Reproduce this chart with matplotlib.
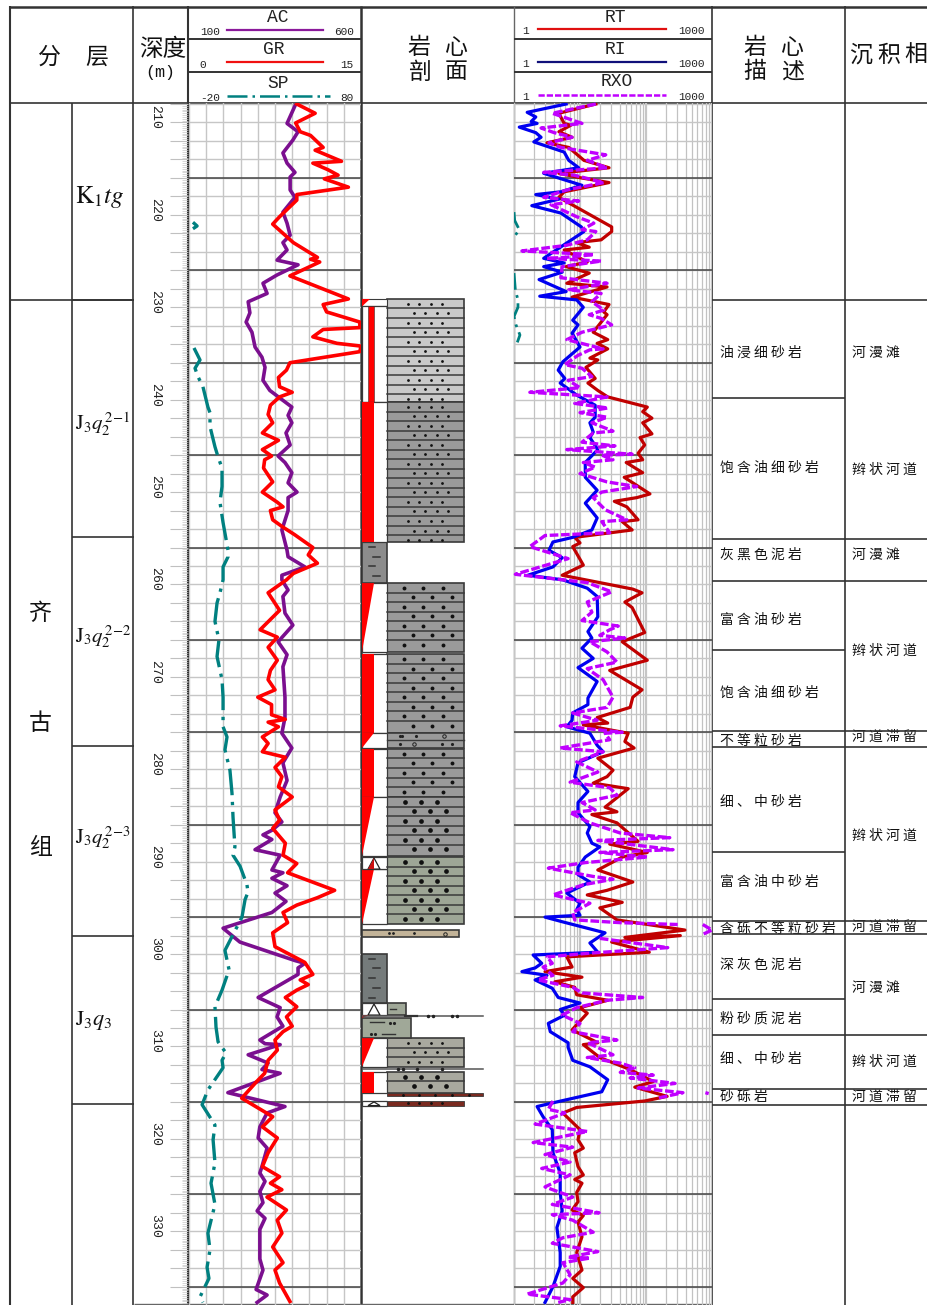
import numpy as np
import matplotlib
matplotlib.use('Agg')
import matplotlib.pyplot as plt
from matplotlib.patches import Rectangle, Polygon
from matplotlib.ticker import MultipleLocator, NullFormatter, LogLocator

plt.rcParams['font.family'] = ['Noto Sans CJK SC', 'DejaVu Sans']
plt.rcParams['mathtext.fontset'] = 'stix'

# log readings, depth in m
gr_depth = [208.0,209.0,210.05,211.0,211.4,212.7,213.0,214.2,214.4,215.1,215.7,216.1,217.0,217.8,218.4,220.2,221.0,223.0,224.6,224.8,225.1,226.6,229.1,229.7,230.5,231.6,232.2,232.4,233.2,233.9,234.2,234.8,235.7,236.0,236.8,237.6,238.6,239.2,239.7,240.6,241.6,242.5,243.6,244.4,245.4,246.1,246.5,247.4,248.9,250.0,251.1,251.6,252.0,253.0,253.8,254.6,256.0,256.8,257.7,258.8,259.5,260.9,262.8,264.9,265.7,266.8,268.2,269.3,270.3,271.4,272.2,273.0,274.1,274.6,274.9,275.4,276.5,277.2,278.1,278.7,279.8,280.8,281.9,283.0,284.4,285.5,286.4,288.0,289.3,290.2,291.2,293.1,293.9,294.7,295.5,296.6,297.7,299.2,300.9,302.2,302.8,303.3,303.9,304.7,305.7,306.8,307.8,308.4,309.3,310.4,311.5,312.9,313.8,315.6,317.6,318.7,319.9,321.5,323.0,324.1,324.8,325.5,326.3,327.7,328.8,330.2,331.7,333.4,334.2,335.6,337.6]
gr = [9.4,11.0,9.3,9.7,10.6,11.7,11.0,13.3,10.8,12.1,13.0,11.8,13.9,9.4,9.4,7.9,7.3,9.1,11.2,10.6,11.4,8.8,13.9,11.7,12.0,14.9,14.9,11.7,10.8,12.9,15.0,14.9,10.3,8.8,8.5,7.8,7.9,9.0,7.9,7.1,6.9,7.3,6.4,7.8,6.4,7.2,6.6,6.5,7.3,6.4,7.7,8.2,7.1,7.3,8.2,9.2,10.8,10.4,11.2,9.1,8.5,6.9,7.9,6.2,7.7,6.9,7.7,7.1,6.9,7.5,6.0,7.2,7.2,8.4,6.9,7.8,6.4,6.9,6.4,8.4,7.5,8.1,7.8,9.0,7.5,7.9,7.3,8.4,8.2,9.4,8.6,12.7,11.2,9.4,8.2,8.6,7.3,7.5,10.1,10.8,9.7,10.4,9.4,8.4,9.4,8.5,9.0,8.2,7.5,7.7,6.9,6.6,5.9,4.6,7.3,6.4,7.7,6.9,6.4,7.9,7.1,8.1,6.8,8.5,7.7,8.1,7.3,8.2,7.5,7.9,8.8]

ac_depth = [208.2,210.1,211.0,211.9,213.3,214.4,215.4,215.9,217.3,218.1,219.7,220.9,222.2,223.0,223.8,224.9,225.4,226.5,227.4,228.5,229.4,230.6,231.6,232.7,234.3,235.4,236.5,237.9,239.0,240.8,241.7,242.5,243.6,244.9,246.1,246.8,247.9,249.0,250.0,250.6,252.0,254.1,256.3,257.0,258.1,259.0,259.5,260.6,261.3,263.1,264.4,266.2,267.6,268.9,272.2,274.4,276.1,277.7,279.3,281.2,283.0,284.7,285.7,286.6,287.1,287.6,288.7,289.3,290.9,291.2,291.8,292.6,293.4,294.3,295.5,297.2,298.7,300.7,301.0,301.5,302.2,304.7,305.8,306.8,307.8,309.3,309.7,309.8,310.9,311.8,312.5,312.9,315.0,316.5,317.2,318.7,319.9,321.0,323.0,323.7,324.6,325.7,326.9,327.8,328.6,329.8,331.2,333.0,334.2,336.3,336.9,337.7]
ac = [408,385,417,402,373,385,408,394,394,408,373,385,394,373,385,356,417,356,315,327,272,277,266,283,292,312,321,315,335,399,388,399,382,394,359,379,399,388,414,388,388,370,385,388,437,370,370,388,373,379,402,359,385,373,379,379,370,399,373,385,365,350,370,341,315,341,292,365,341,373,341,385,350,382,341,199,248,408,437,417,417,301,365,356,373,306,321,365,272,330,312,365,213,379,327,306,301,327,312,306,321,306,315,298,321,306,306,306,315,295,327,298]

sp_depth = [220.8,221.2,221.5,np.nan,234.4,235.7,236.6,237.5,238.6,240.8,241.4,242.9,245.1,246.2,247.4,249.4,251.1,253.3,256.3,257.0,258.1,259.5,260.9,262.0,264.0,266.0,267.8,270.3,272.2,275.4,276.5,277.9,280.1,282.6,285.2,288.4,289.3,290.5,292.5,293.3,294.1,296.0,299.6,301.7,303.9,305.7,307.9,309.5,310.7,311.5,312.3,314.7,316.3,318.5,320.1,322.6,324.8,327.1,330.2,332.0,333.9,335.1,337.1,337.7]
sp = [-17.7,-15.3,-17.7,np.nan,-17.1,-13.6,-16.5,-14.8,-11.9,-9.0,-7.8,-7.8,-4.9,-3.1,-0.8,-0.8,-2.0,-0.2,2.7,2.7,-0.2,-0.2,-2.0,-3.7,-4.9,-2.6,-3.7,-0.8,-0.2,-0.2,2.1,0.9,3.8,5.0,5.6,6.7,5.6,9.7,13.7,14.3,12.6,10.8,0.9,3.3,-0.8,-4.9,-4.3,-3.1,1.5,-0.8,-0.2,-9.0,-12.4,-4.9,-6.0,-4.9,-7.2,-4.9,-9.0,-7.8,-9.5,-8.4,-13.6,-11.9]

# bit of SP that wraps into the resistivity track (log10 of the scale there)
sp_wrap_depth = [219.7,220.6,221.6,222.4,np.nan,226.3,228.1,229.2,230.0,231.0,231.9,233.0,233.8]
sp_wrap_log = [0.0,0.01,0.08,0.0,np.nan,0.0,0.02,0.06,0.06,0.0,0.03,0.09,0.05]

# resistivity is read as log10(ohm.m)
rt_depth = [208.0,209.0,210.1,210.3,211.0,211.6,212.2,212.7,214.1,214.9,215.5,216.0,216.5,217.5,218.1,219.3,221.3,221.8,222.7,223.0,223.5,223.8,225.1,225.6,226.3,227.4,227.8,228.9,229.7,230.5,230.8,232.7,233.5,233.9,234.5,235.5,235.7,236.5,237.7,238.2,239.0,239.7,240.6,240.8,241.3,242.0,242.5,243.7,244.1,244.9,245.8,246.5,246.8,247.9,248.4,250.2,250.6,251.0,251.6,253.0,253.2,254.1,254.9,255.5,255.9,257.9,259.0,260.5,260.9,261.9,262.5,265.2,266.2,268.2,269.3,271.4,272.2,273.3,274.4,275.0,275.2,276.1,277.0,277.7,278.8,280.1,280.8,281.5,282.1,284.1,284.6,284.9,285.8,287.8,288.1,289.0,289.5,290.9,292.2,293.1,293.6,294.4,295.0,296.3,297.4,298.2,298.0,298.7,299.8,300.3,301.4,301.9,302.5,303.0,303.6,304.4,305.0,305.8,306.4,308.2,309.6,309.8,311.2,312.5,313.8,314.4,315.4,315.9,316.6,317.2,319.0,320.1,321.0,321.5,323.0,323.9,324.4,324.8,325.8,326.8,327.7,328.3,329.0,330.6,332.3,334.2,335.1,336.1,337.1,337.7]
rt_log = [1.24,0.68,0.76,0.86,0.68,0.88,0.50,0.83,1.06,1.44,0.68,1.02,1.44,0.76,0.68,0.98,1.48,1.48,1.32,0.95,1.14,0.76,1.11,0.79,1.14,0.80,1.41,0.88,1.44,1.36,1.41,1.20,1.42,1.26,1.42,1.15,1.27,1.09,1.23,1.12,1.27,1.42,1.91,2.02,1.95,2.09,1.95,2.09,1.91,1.98,1.88,1.95,1.70,1.95,1.67,2.06,1.86,1.52,1.71,1.88,1.64,1.79,0.92,1.00,0.89,1.05,0.73,1.80,1.94,1.68,1.79,1.98,1.64,2.02,1.45,1.94,1.80,1.76,1.26,1.42,1.05,1.73,1.68,1.82,1.27,1.50,1.41,1.20,1.73,1.38,1.56,1.18,1.56,1.88,1.45,2.02,1.64,1.27,1.80,1.41,1.11,1.64,1.30,1.56,2.59,1.68,2.52,1.48,2.05,0.80,0.88,0.47,1.03,0.62,0.92,0.95,1.42,1.00,1.11,0.88,1.27,1.05,1.30,1.76,2.11,1.83,2.32,1.98,0.95,0.74,1.00,0.97,1.05,0.92,0.97,1.05,0.92,1.03,0.95,0.97,0.88,1.05,0.97,1.03,0.95,1.03,0.89,1.05,0.89,0.89]

ri_depth = [208.0,208.9,209.4,209.9,210.1,210.5,211.1,211.6,212.1,213.2,214.1,214.9,215.5,216.8,217.5,217.8,218.3,219.0,219.8,221.3,221.8,223.6,224.7,225.2,225.6,226.2,227.0,228.3,228.8,229.2,230.0,231.4,231.9,232.8,234.3,235.9,236.8,237.7,238.2,239.5,240.6,241.9,242.5,243.5,244.1,245.4,246.8,248.4,249.8,251.2,252.8,254.1,254.9,255.4,256.3,257.1,258.1,259.0,259.5,260.4,261.3,263.5,265.1,265.8,266.9,268.0,269.0,270.5,272.3,273.0,273.9,274.7,275.4,276.1,277.4,278.1,279.3,280.8,282.4,283.6,284.7,286.2,286.9,288.0,288.4,289.5,290.6,291.4,292.2,293.4,294.5,295.2,295.8,296.0,296.5,297.7,298.8,299.8,300.1,301.0,301.5,301.9,302.3,302.8,303.7,304.7,305.3,306.0,306.6,307.5,308.4,309.6,310.1,311.5,312.2,313.6,314.9,316.0,316.5,317.6,319.0,321.5,323.7,325.8,327.8,329.6,332.3,333.8,336.0,337.7]
ri_log = [0.79,0.20,0.33,0.26,0.35,0.08,0.33,0.41,0.30,0.76,0.83,0.98,0.45,1.03,0.71,0.33,0.68,0.27,0.71,1.02,1.06,0.68,0.45,0.76,0.45,0.73,0.38,0.79,0.39,0.95,1.05,0.89,0.97,0.88,1.00,0.74,0.67,0.77,0.70,0.95,1.23,1.23,1.15,1.20,1.15,1.27,1.08,1.08,1.26,1.08,1.26,1.18,0.89,0.59,0.53,0.73,0.59,0.21,0.74,1.11,1.26,1.27,1.12,1.18,1.03,1.20,0.97,1.26,1.12,1.12,0.89,0.88,0.80,1.15,1.26,1.35,0.97,0.92,1.12,0.97,0.97,1.15,1.11,1.18,1.30,1.08,0.97,0.97,1.15,0.80,1.00,0.95,1.00,0.47,0.73,1.38,1.15,1.27,0.29,0.42,0.32,0.12,0.50,0.32,0.58,0.67,1.00,0.70,0.77,0.52,0.55,0.82,0.82,0.89,1.15,1.42,1.33,0.65,0.35,0.44,0.58,0.59,0.70,0.70,0.73,0.65,0.70,0.70,0.59,0.47]

rxo_depth = [208.0,209.0,210.1,210.6,211.1,211.6,212.2,212.7,213.5,214.1,214.9,215.4,215.7,216.5,217.3,218.1,218.5,218.9,220.2,220.9,221.6,221.8,222.7,223.3,223.9,224.3,224.6,224.7,225.0,225.6,226.8,227.4,228.1,228.5,229.4,230.3,230.8,231.2,231.9,232.7,233.5,234.5,234.6,235.2,236.2,236.6,237.5,237.9,238.7,239.2,239.5,239.7,240.4,240.9,241.4,241.9,242.5,243.4,243.6,244.6,245.0,245.4,245.9,246.0,246.5,246.8,247.3,248.0,248.9,249.4,250.0,250.6,251.9,253.0,253.2,254.4,254.7,255.9,257.2,258.9,259.8,260.8,261.9,263.0,263.9,264.5,264.9,265.5,265.8,266.2,267.3,268.4,269.1,270.3,272.2,273.3,273.9,274.7,275.3,276.0,276.1,276.8,277.7,278.1,279.2,280.3,281.4,282.0,282.8,283.6,284.4,284.7,285.8,286.9,287.4,287.7,288.7,289.0,289.5,290.1,290.7,291.6,291.9,292.5,293.6,294.5,295.5,296.3,296.6,296.8,np.nan,296.8,297.4,297.9,np.nan,298.3,299.3,299.5,299.9,300.3,301.0,301.4,302.3,302.8,303.6,304.2,304.7,305.0,305.8,306.6,307.5,308.4,309.3,309.6,310.9,311.2,311.8,312.3,312.8,313.1,313.4,314.0,314.5,315.0,315.6,np.nan,315.0,315.1,np.nan,315.9,316.8,317.2,318.4,319.2,320.4,320.9,321.7,322.5,323.2,323.9,325.2,326.3,327.1,328.0,328.2,328.8,330.1,330.7,331.3,332.2,332.8,332.9,333.4,334.7,335.6,336.8,337.4,337.7]
rxo_log = [1.24,0.58,1.03,0.41,0.61,0.88,0.53,0.71,1.39,1.11,1.41,0.45,0.91,1.36,0.80,0.45,0.98,0.56,0.95,1.21,1.03,1.24,1.11,0.79,0.12,1.21,0.76,0.50,1.32,0.73,0.71,1.41,0.83,1.32,1.18,1.36,1.14,1.32,1.48,1.03,0.80,1.35,1.15,0.97,0.77,1.03,1.18,0.82,1.00,0.24,0.95,1.41,0.92,1.42,1.00,1.41,1.18,1.50,1.20,1.03,1.53,0.80,1.79,1.33,1.50,1.05,1.23,1.00,1.41,1.86,1.33,1.20,1.38,1.71,1.33,1.45,0.47,0.24,0.82,0.02,1.11,1.48,1.11,1.18,1.03,1.58,1.45,1.30,1.68,1.15,1.41,1.56,1.11,1.35,1.50,1.41,0.89,1.26,0.70,1.64,1.38,1.45,0.70,1.35,0.95,1.27,0.85,1.45,1.56,1.03,1.23,0.85,1.15,1.61,2.36,1.27,2.41,1.30,2.02,1.08,0.52,1.20,1.50,1.05,0.59,1.15,0.89,0.92,1.61,2.48,np.nan,2.86,3.0,2.85,np.nan,1.30,2.33,1.95,1.15,0.50,0.58,0.44,0.59,0.36,0.89,1.03,1.95,1.41,0.95,0.73,1.00,0.89,1.56,1.12,1.50,1.11,1.61,1.83,1.61,2.11,1.76,2.44,1.88,2.56,2.17,np.nan,2.90,2.95,np.nan,0.59,0.52,0.77,0.32,1.11,0.29,0.89,0.47,0.85,0.42,0.85,0.47,0.89,0.58,1.29,0.58,0.89,1.20,0.74,0.58,1.27,0.82,1.15,0.74,0.85,0.74,0.20,0.85,0.67]

depth_labels = list(range(210, 340, 10))

# core column: sand beds
sand_top = [229.1,240.25,259.85,267.55,276.05,277.8,283.0,289.5,309.1,312.75]
sand_bot = [240.25,255.45,267.3,276.05,277.7,283.0,289.35,296.75,312.2,315.05]
sand_col = ['#c9c9c9','#9a9a9a','#9a9a9a','#9a9a9a','#9a9a9a','#9a9a9a','#9a9a9a','#9ea696','#a9a99f','#a9a99f']
sand_dot = ['small','small','medium','medium','sparse','medium','large','large','small','large']

mud_top = [255.45,300.0]
mud_bot = [259.85,305.3]
mud_col = ['#8c8c8c','#757b7b']

# oil show next to the beds, bar = solid, wedge = fading downward
oil_top = [229.9,240.25,259.85,267.55,276.05,277.8,283.0,290.8,309.1,312.75]
oil_bot = [240.25,255.45,267.3,276.05,277.7,283.0,289.35,296.75,312.2,315.05]
oil_kind = ['thin','bar','wedge','bar','wedge','bar','wedge','wedge','wedge','bar']

strat_lines = [300, 537, 746, 936, 1104]
desc_lines = [300, 398, 539, 581, 650, 731, 747, 852, 921, 934, 999, 1035, 1089, 1105]
facies_lines = [300, 539, 581, 731, 747, 921, 934, 1035, 1089, 1105]

desc_text = ['油浸细砂岩','饱含油细砂岩','灰黑色泥岩','富含油砂岩','饱含油细砂岩','不等粒砂岩','细、中砂岩','富含油中砂岩','含砾不等粒砂岩','深灰色泥岩','粉砂质泥岩','细、中砂岩','砂砾岩']
desc_y = [353, 468, 555, 620, 693, 741, 802, 882, 929, 965, 1019, 1059, 1097]
facies_text = ['河漫滩','辫状河道','河漫滩','辫状河道','河道滞留','辫状河道','河道滞留','河漫滩','辫状河道','河道滞留']
facies_y = [353, 470, 555, 651, 737, 836, 927, 988, 1062, 1097]

W, H = 928, 1305
fig = plt.figure(figsize=(W / 100, H / 100), dpi=100, facecolor='white')
LINE = '#333333'
MONO = 'Liberation Mono'


def track_axes(x0, x1, y0=103, y1=1305):
    return fig.add_axes([x0 / W, 1 - y1 / H, (x1 - x0) / W, (y1 - y0) / H], facecolor='none')


# depth of the top and bottom pixel rows
d_top, d_bot = 207.89, 337.98

# page layer, table lines and text in pixels
bg = fig.add_axes([0, 0, 1, 1])
bg.set_xlim(0, W)
bg.set_ylim(H, 0)
bg.axis('off')


def hl(y, x0, x1, lw=1.2, c=LINE):
    bg.plot([x0, x1], [y, y], color=c, lw=lw, solid_capstyle='butt', zorder=6)


def vl(x, y0, y1, lw=1.2, c=LINE):
    bg.plot([x, x], [y0, y1], color=c, lw=lw, solid_capstyle='butt', zorder=6)


hl(6.5, 9, W, lw=1.8)
hl(103, 10, W, lw=1.2)
vl(10, 6, H, lw=1.5)
vl(72, 103, H)
for x in [133.5, 712, 845]:
    vl(x, 6, H)
vl(188.5, 6, H, lw=1.5)
vl(361.5, 6, H, lw=1.8)
vl(514, 6, H, lw=1.0, c='#666666')
for y in [38.5, 71.5]:
    hl(y, 189, 361, lw=1.4)
    hl(y, 514, 712, lw=1.4)
hl(300, 10, 134)
for y in strat_lines:
    hl(y, 72, 134)
for y in desc_lines:
    hl(y, 712, 845)
for y in facies_lines:
    hl(y, 845, W)
hl(1304, 134, 712, lw=1.0, c='#666666')

# header text
for s, x, y in [('分', 49, 57), ('层', 97, 57), ('岩', 419, 47), ('心', 456, 47), ('剖', 419, 72), ('面', 456, 72),
                ('岩', 755, 47), ('心', 792, 47), ('描', 755, 72), ('述', 792, 72),
                ('沉', 861, 55), ('积', 889, 55), ('相', 916, 55)]:
    bg.text(x, y, s, fontsize=16.5, ha='center', va='center', color='#111111', zorder=7)
bg.text(163, 50, '深度', fontsize=17, ha='center', va='center', color='#111111', zorder=7)
bg.text(160, 72, '(m)', fontsize=12, family=MONO, ha='center', va='center', color='#111111', zorder=7)

# curve legend
for s, x, y in [('AC', 278, 17), ('GR', 274, 50), ('SP', 278, 83), ('RT', 615, 17), ('RI', 615, 50), ('RXO', 617, 82)]:
    bg.text(x, y, s, fontsize=13, family=MONO, ha='center', va='center', color='#222222', zorder=7)
for s, x, y in [('100', 210, 32), ('600', 344, 32), ('0', 203, 65), ('15', 347, 65), ('-20', 210, 98), ('80', 347, 98),
                ('1', 526, 31), ('1000', 691, 31), ('1', 526, 64), ('1000', 691, 64), ('1', 526, 97), ('1000', 691, 97)]:
    bg.text(x, y, s, fontsize=8, family=MONO, ha='center', va='center', color='#222222', zorder=7)
bg.plot([227, 323], [30, 30], color='#8b1a9b', lw=1.6)
bg.plot([227, 323], [62, 62], color='#f01010', lw=1.6)
bg.plot([227, 330], [96, 96], color='#008080', lw=1.8, dashes=(8, 2, 1, 2))
bg.plot([538, 666], [29, 29], color='#e01010', lw=1.6)
bg.plot([538, 666], [62, 62], color='#10107a', lw=1.6)
bg.plot([538, 666], [95, 95], color='#c000ff', lw=1.8, dashes=(2.5, 0.8))

# strata column
for s, y in [('齐', 614), ('古', 724), ('组', 848)]:
    bg.text(40, y, s, fontsize=16.5, ha='center', va='center', color='#111111', zorder=7)
for s, x, y, fs in [(r'$\mathrm{K}_{1}\mathit{tg}$', 75, 197, 18),
                    (r'$\mathrm{J}_{3}\mathit{q}_{2}^{\,2\mathrm{-}1}$', 75, 424, 15),
                    (r'$\mathrm{J}_{3}\mathit{q}_{2}^{\,2\mathrm{-}2}$', 75, 637, 15),
                    (r'$\mathrm{J}_{3}\mathit{q}_{2}^{\,2\mathrm{-}3}$', 75, 838, 15),
                    (r'$\mathrm{J}_{3}\mathit{q}_{3}$', 75, 1020, 16)]:
    bg.text(x, y, s, fontsize=fs, ha='left', va='center', color='#111111', zorder=7)

# description and facies, the space gives the loose letter spacing
for s, y in zip(desc_text, desc_y):
    bg.text(720, y, ' '.join(s), fontsize=10, ha='left', va='center', color='#111111', zorder=5)
for s, y in zip(facies_text, facies_y):
    bg.text(852, y, ' '.join(s), fontsize=10, ha='left', va='center', color='#111111', zorder=5)

# depth track ticks
ax_d = track_axes(134, 188.5)
ax_d.set_ylim(d_bot, d_top)
ax_d.set_xlim(0, 1)
for s in ax_d.spines.values():
    s.set_visible(False)
ax_d.xaxis.set_visible(False)
ax_d.yaxis.tick_right()
ax_d.yaxis.set_major_locator(MultipleLocator(2))
ax_d.yaxis.set_minor_locator(MultipleLocator(0.2))
ax_d.yaxis.set_major_formatter(NullFormatter())
ax_d.tick_params(axis='y', which='major', direction='in', length=13, width=0.8, color='#c0c0c0')
ax_d.tick_params(axis='y', which='minor', direction='in', length=4.5, width=0.5, color='#c8c8c8')
for d in depth_labels:
    ax_d.text(0.39, d - 0.55, str(d), rotation=270, fontsize=9.5, family=MONO, ha='center', va='center', color='#222222')

# first curve track
ax1 = track_axes(189, 361)
ax1.set_ylim(d_bot, d_top)
ax1.set_xlim(0, 15)
ax1.xaxis.set_major_locator(MultipleLocator(1.5))
ax1.yaxis.set_major_locator(MultipleLocator(2))
ax1.grid(True, which='major', color='#c6c6c6', lw=1.0)
ax1.tick_params(length=0, labelbottom=False, labelleft=False)
ax1.set_axisbelow(True)
for s in ax1.spines.values():
    s.set_visible(False)
for d in range(216, 338, 10):
    ax1.axhline(d, color='#444444', lw=1.1, zorder=1.5)
ax_ac = ax1.twiny()
ax_ac.set_xlim(100, 600)
ax_ac.xaxis.set_visible(False)
ax_sp = ax1.twiny()
ax_sp.set_xlim(-20, 80)
ax_sp.xaxis.set_visible(False)
for a in [ax_ac, ax_sp]:
    for s in a.spines.values():
        s.set_visible(False)
ax_sp.plot(sp, sp_depth, color='#008080', lw=2.4, dashes=(8, 2, 1, 2))
ax_ac.plot(ac, ac_depth, color='#7b0f8f', lw=2.6)
ax_top = ax1.twiny()
ax_top.set_xlim(0, 15)
ax_top.xaxis.set_visible(False)
for s in ax_top.spines.values():
    s.set_visible(False)
ax_top.plot(gr, gr_depth, color='#ff0000', lw=2.6)

# core column, x runs in its own units from the left cell to the end of the scale
ax_c = track_axes(362, 514)
ax_c.set_ylim(d_bot, d_top)
ax_c.set_xlim(0, 152)
ax_c.axis('off')
EDGE = '#3a3a3a'
dot_steps = {'small': (11.3, 4, 46, 52, 2.0), 'medium': (19.3, 3, 42, 51, 2.8), 'large': (16, 3, 43, 52, 3.4)}
for top, bot, col, kind in zip(sand_top, sand_bot, sand_col, sand_dot):
    ax_c.add_patch(Rectangle((25, top), 77, bot - top, fc=col, ec=EDGE, lw=1.2))
    if kind == 'sparse':
        ax_c.plot([25, 102], [top + 0.8, top + 0.8], color=EDGE, lw=1.0)
        ax_c.plot([38, 40, 54, 38, 80, 90], [top + 0.4, top + 0.4, top + 0.4, top + 1.2, top + 1.2, top + 1.2],
                  ls='none', marker='.', ms=2.5, color='#222222')
        ax_c.plot([82, 52], [top + 0.4, top + 1.2], ls='none', marker='o', ms=2.5, mfc='none', mec='#222222', mew=0.7)
        continue
    step, n, x1, x2, ms = dot_steps[kind]
    rows = np.arange(top, bot - 0.4, 1.03)
    for i, r in enumerate(rows):
        xs = [(x1 if i % 2 == 0 else x2) + step * k for k in range(n)]
        ax_c.plot(xs, [r + 0.52] * n, ls='none', marker='o', ms=ms, color='#111111', mew=0)
        if i > 0:
            ax_c.plot([25, 102], [r, r], color=EDGE, lw=1.1)

for top, bot, col in zip(mud_top, mud_bot, mud_col):
    ax_c.add_patch(Rectangle((0, top), 25, bot - top, fc=col, ec=EDGE, lw=1.2))
    for i, k in enumerate(np.arange(top + 0.5, bot - 0.2, 1.05)):
        xs = (7, 13) if i % 2 == 0 else (11, 18)
        ax_c.plot(xs, [k, k], color='#333333', lw=1.1)

# thin beds
ax_c.add_patch(Rectangle((0, 297.4), 97, 0.75, fc='#c2b398', ec=EDGE, lw=1.2))
ax_c.plot([27, 31, 52], [297.75] * 3, ls='none', marker='.', ms=2, color='#222222')
ax_c.plot([83], [297.85], ls='none', marker='o', ms=2.5, mfc='none', mec='#222222', mew=0.7)
ax_c.add_patch(Rectangle((25, 305.3), 19, 1.3, fc='#a0a898', ec=EDGE, lw=1.2))
ax_c.plot([28, 34], [305.9, 305.9], color='#333333', lw=1.0)
ax_c.add_patch(Rectangle((0, 306.9), 49, 2.2, fc='#a0a898', ec=EDGE, lw=1.2))
ax_c.plot([8, 22], [307.3, 307.3], color='#333333', lw=1.0)
ax_c.plot([20, 33], [308.6, 308.6], color='#333333', lw=1.0)
ax_c.plot([28, 32, 9, 13], [307.45, 307.45, 308.7, 308.7], ls='none', marker='.', ms=2.5, color='#222222')
for y in [306.75, 312.4]:
    ax_c.plot([0, 121], [y, y], color='#555555', lw=1.1)
ax_c.plot([43, 55], [306.75, 306.75], color='#333333', lw=1.6)
ax_c.plot([66, 71, 90, 95], [306.75] * 4, ls='none', marker='.', ms=3, color='#222222')
ax_c.plot([36, 41, 55, 80], [312.4] * 4, ls='none', marker='.', ms=3, color='#222222')
ax_c.add_patch(Rectangle((25, 315.05), 96, 0.35, fc='#7a2a20', ec=EDGE, lw=0.6))
ax_c.add_patch(Rectangle((25, 315.9), 77, 0.5, fc='#7a2a20', ec=EDGE, lw=0.6))
ax_c.plot([41, 57, 73, 90, 107], [315.22] * 5, ls='none', marker='.', ms=2, color='#111111')
ax_c.plot([46, 57, 69, 80], [316.15] * 4, ls='none', marker='.', ms=2, color='#111111')

# oil show cells
ax_c.add_patch(Rectangle((0, 229.1), 25, 0.8, fc='white', ec=EDGE, lw=0.8))
ax_c.add_patch(Polygon([(0, 229.1), (8, 229.1), (0, 229.9)], fc='#ff0000', ec='none'))
for top, bot, kind in zip(oil_top, oil_bot, oil_kind):
    ax_c.add_patch(Rectangle((0, top), 25, bot - top, fc='white', ec=EDGE, lw=0.9))
    if kind == 'thin':
        ax_c.add_patch(Rectangle((6, top), 6, bot - top, fc='#ff0000', ec='#333333', lw=0.4))
    elif kind == 'bar':
        ax_c.add_patch(Rectangle((0, top), 12, bot - top, fc='#ff0000', ec='none'))
    else:
        ax_c.add_patch(Polygon([(0, top), (12, top), (0, bot)], fc='#ff0000', ec='none'))
for top, bot in [(289.5, 290.8), (305.3, 306.6), (315.9, 316.4)]:
    ax_c.add_patch(Rectangle((0, top), 25, bot - top, fc='white', ec=EDGE, lw=0.9))
    ax_c.add_patch(Polygon([(6, bot), (12, top + 0.1), (18, bot)], fc='white', ec='#222222', lw=0.9))
ax_c.add_patch(Polygon([(6, 290.8), (12, 289.6), (12, 290.8)], fc='#cc1010', ec='none'))
ax_c.add_patch(Polygon([(0, 306.9), (8, 306.6), (0, 306.6)], fc='#cc1010', ec='none'))

# resistivity track
ax2 = track_axes(514, 712)
ax2.set_xscale('log')
ax2.set_xlim(1, 1000)
ax2.set_ylim(d_bot, d_top)
ax2.xaxis.set_major_locator(LogLocator(base=10))
ax2.xaxis.set_minor_locator(LogLocator(base=10, subs=range(2, 10)))
ax2.xaxis.set_major_formatter(NullFormatter())
ax2.xaxis.set_minor_formatter(NullFormatter())
ax2.yaxis.set_major_locator(MultipleLocator(2))
ax2.grid(True, which='major', axis='x', color='#c6c6c6', lw=1.6)
ax2.grid(True, which='minor', axis='x', color='#c2c2c2', lw=0.9)
ax2.grid(True, which='major', axis='y', color='#c6c6c6', lw=1.0)
ax2.tick_params(which='both', length=0, labelbottom=False, labelleft=False)
ax2.set_axisbelow(True)
for s in ax2.spines.values():
    s.set_visible(False)
for d in range(216, 338, 10):
    ax2.axhline(d, color='#444444', lw=1.1, zorder=1.5)
ax2.plot(10 ** np.array(sp_wrap_log), sp_wrap_depth, color='#008080', lw=2.0, dashes=(6, 2, 1, 2))
ax2.plot(10 ** np.array(rt_log), rt_depth, color='#c00000', lw=2.3)
ax2.plot(10 ** np.array(ri_log), ri_depth, color='#0000f0', lw=2.3)
ax2.plot(10 ** np.array(rxo_log), rxo_depth, color='#c000ff', lw=2.4, dashes=(2.6, 0.8), clip_on=False)

fig.savefig('out.png', dpi=100)
